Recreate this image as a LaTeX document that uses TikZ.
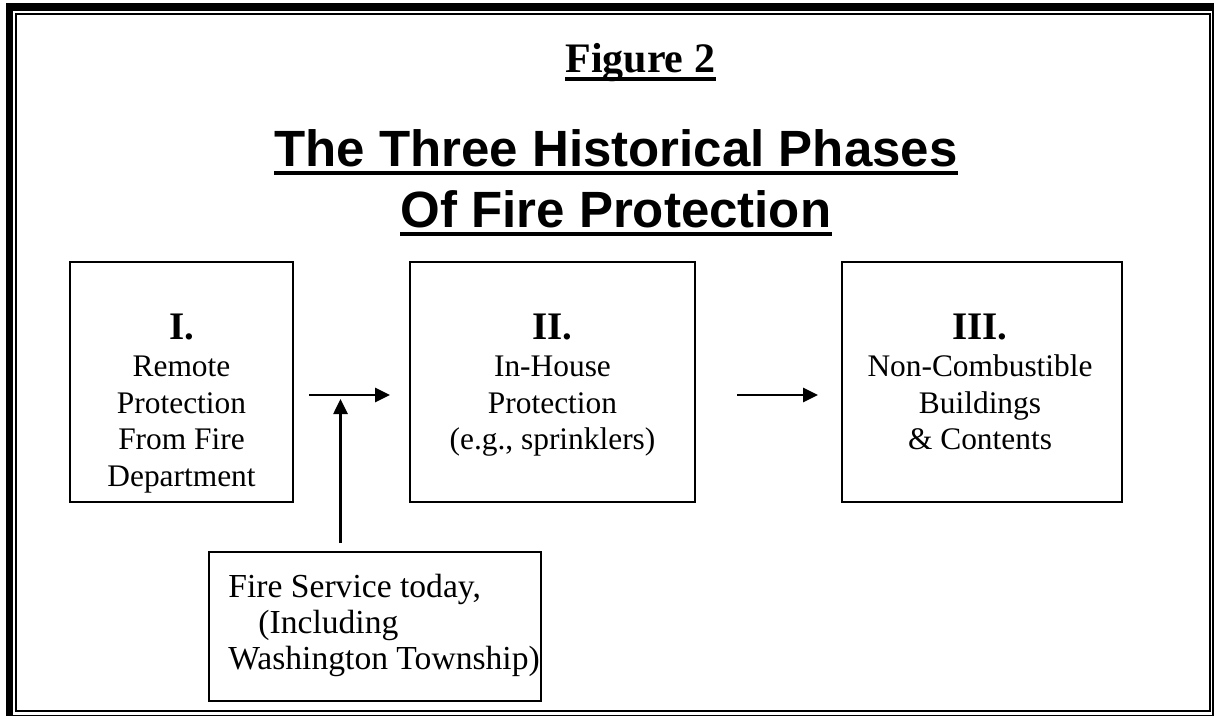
\documentclass[tikz,border=0pt]{standalone}
\usepackage{fontspec}
\setmainfont{Liberation Serif}
\newfontfamily\arialfont{Liberation Sans}
\usetikzlibrary{arrows.meta}
\tikzset{
  box/.style={draw, line width=1pt, inner sep=0pt},
  body/.style={anchor=base, inner sep=0pt, font=\fontsize{15.7pt}{16pt}\selectfont},
  lowbody/.style={anchor=base west, inner sep=0pt, font=\fontsize{16.8pt}{17pt}\selectfont},
  roman/.style={anchor=base, inner sep=0pt, font=\fontsize{19.5pt}{20pt}\selectfont\bfseries},
  arr/.style={line width=1.3pt, -{Triangle[length=7.5pt,width=7pt]}},
  uline/.style={line width=1.6pt},
}
\begin{document}
\begin{tikzpicture}[x=0.5pt,y=-0.5pt]
\useasboundingbox (0,0) rectangle (1214,717);
% frame
\fill (6,3) rectangle (1213.5,11);
\fill (6,3) rectangle (13,716);
\draw[line width=0.6pt] (1213,3) -- (1213,715.5) -- (6,715.5);
\draw[line width=1pt] (16,14) rectangle (1210,711);
% headings
\node[anchor=base west, inner sep=0pt, font=\fontsize{21pt}{22pt}\selectfont\bfseries] (fig) at (565,73) {Figure 2};
\draw[uline] ([yshift=-3pt]fig.base west) -- ([yshift=-3pt]fig.base east);
\node[anchor=base west, inner sep=0pt, font=\arialfont\fontsize{25.5pt}{28pt}\selectfont\bfseries] (t1) at (274,166) {The Three Historical Phases};
\draw[line width=2pt] ([yshift=-3.5pt]t1.base west) -- ([yshift=-3.5pt]t1.base east);
\node[anchor=base, inner sep=0pt, font=\arialfont\fontsize{25.5pt}{28pt}\selectfont\bfseries] (t2) at (t1.base |- 0,227) {Of Fire Protection};
\draw[line width=2pt] ([yshift=-3.5pt]t2.base west) -- ([yshift=-3.5pt]t2.base east);
% boxes
\node[box, minimum width=111.5pt, minimum height=120pt] (b1) at (181.5,382) {};
\node[box, minimum width=142.5pt, minimum height=120pt] (b2) at (552.5,382) {};
\node[box, minimum width=140pt, minimum height=120pt] (b3) at (982,382) {};
\node[box, minimum width=166pt, minimum height=74.5pt] (b4) at (375,626.5) {};
% box I text
\node[roman] (r1) at (181.5,339) {I.};
\node[body] (b1l1) at (181.5,376) {Remote};
\node[body] (b1l2) at (181.5,413) {Protection};
\node[body] (b1l3) at (181.5,449) {From Fire};
\node[body] (b1l4) at (181.5,486) {Department};
% box II text
\node[roman] (r2) at (552.5,339) {II.};
\node[body] (b2l1) at (552.5,376) {In-House};
\node[body] (b2l2) at (552.5,413) {Protection};
\node[body] (b2l3) at (552.5,449) {(e.g., sprinklers)};
% box III text
\node[roman] (r3) at (980,339) {III.};
\node[body] (b3l1) at (980,376) {Non-Combustible};
\node[body] (b3l2) at (980,413) {Buildings};
\node[body] (b3l3) at (980,449) {\& Contents};
% bottom box text
\node[lowbody] (b4l1) at (228,597) {Fire Service today,};
\node[lowbody] (b4l2) at (258,633) {(Including};
\node[lowbody] (b4l3) at (228,669) {Washington Township)};
% arrows
\coordinate (a1s) at (309,395);
\coordinate (a1e) at (390,395);
\coordinate (a2s) at (737,395);
\coordinate (a2e) at (818,395);
\coordinate (v1s) at (340.5,543);
\coordinate (v1e) at (340.5,399);
\draw[arr] (a1s) -- (a1e);
\draw[arr] (a2s) -- (a2e);
\draw[arr] (v1s) -- (v1e);
\end{tikzpicture}
\end{document}
